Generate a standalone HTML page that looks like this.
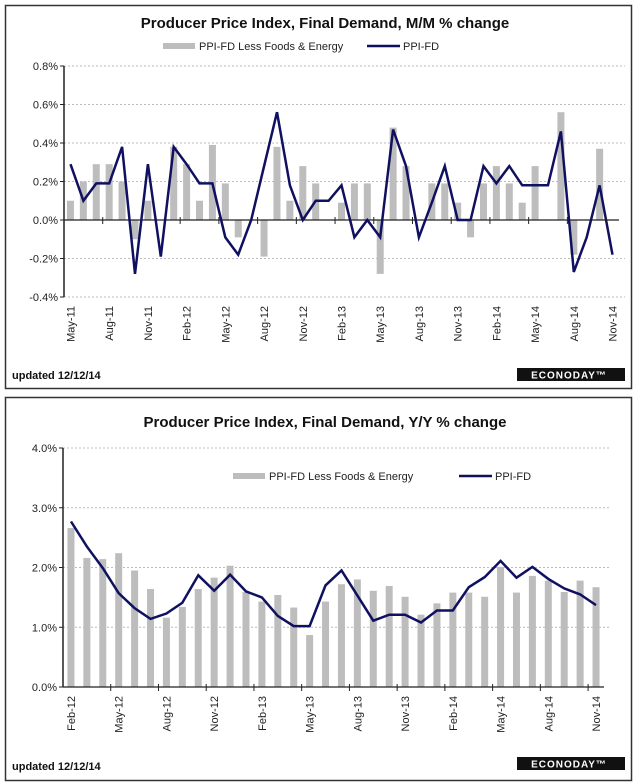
<!DOCTYPE html>
<html><head><meta charset="utf-8">
<style>
html,body{margin:0;padding:0;background:#fff;}
svg{display:block;font-family:"Liberation Sans",Arial,sans-serif;}
</style></head>
<body>
<svg id="c" width="640" height="784" viewBox="0 0 640 784">
<rect x="5.5" y="5.5" width="626" height="383" fill="#fff" stroke="#333" stroke-width="1.5"/>
<rect x="5.5" y="397.5" width="626" height="383" fill="#fff" stroke="#333" stroke-width="1.5"/>
<text x="325" y="28" text-anchor="middle" font-size="15" font-weight="bold" fill="#111">Producer Price Index, Final Demand, M/M % change</text>
<rect x="163" y="43" width="32" height="6" fill="#bdbdbd"/>
<text x="199" y="50" font-size="11" fill="#222">PPI-FD Less Foods &amp; Energy</text>
<line x1="367" y1="46" x2="400" y2="46" stroke="#101060" stroke-width="2.5"/>
<text x="403" y="50" font-size="11" fill="#222">PPI-FD</text>
<text x="325" y="427" text-anchor="middle" font-size="15" font-weight="bold" fill="#111">Producer Price Index, Final Demand, Y/Y % change</text>
<rect x="233" y="473" width="32" height="6" fill="#bdbdbd"/>
<text x="269" y="480" font-size="11" fill="#222">PPI-FD Less Foods &amp; Energy</text>
<line x1="459" y1="476" x2="492" y2="476" stroke="#101060" stroke-width="2.5"/>
<text x="495" y="480" font-size="11" fill="#222">PPI-FD</text>
<text x="12" y="379" font-size="11" font-weight="bold" fill="#111">updated 12/12/14</text>
<text x="12" y="770" font-size="11" font-weight="bold" fill="#111">updated 12/12/14</text>
<g><rect x="517" y="368" width="108" height="13" fill="#111"/><text x="569" y="378.5" text-anchor="middle" font-size="10" font-weight="bold" fill="#fff" letter-spacing="1">ECONODAY™</text></g>
<g><rect x="517" y="757" width="108" height="13" fill="#111"/><text x="569" y="767.5" text-anchor="middle" font-size="10" font-weight="bold" fill="#fff" letter-spacing="1">ECONODAY™</text></g>
</svg>
<script>
// Top chart (M/M), May-11 .. Nov-14
const mmMonths = ["May-11","Jun-11","Jul-11","Aug-11","Sep-11","Oct-11","Nov-11","Dec-11","Jan-12","Feb-12","Mar-12","Apr-12","May-12","Jun-12","Jul-12","Aug-12","Sep-12","Oct-12","Nov-12","Dec-12","Jan-13","Feb-13","Mar-13","Apr-13","May-13","Jun-13","Jul-13","Aug-13","Sep-13","Oct-13","Nov-13","Dec-13","Jan-14","Feb-14","Mar-14","Apr-14","May-14","Jun-14","Jul-14","Aug-14","Sep-14","Oct-14","Nov-14"];
const mmCore = [0.1,0.2,0.29,0.29,0.2,-0.1,0.1,0,0.38,0.29,0.1,0.39,0.19,-0.09,0,-0.19,0.38,0.1,0.28,0.19,0,0.09,0.19,0.19,-0.28,0.48,0.28,0,0.19,0.19,0.09,-0.09,0.19,0.28,0.19,0.09,0.28,0,0.56,-0.18,0,0.37,0];
const mmHeadline = [0.29,0.1,0.19,0.19,0.38,-0.28,0.29,-0.19,0.38,0.29,0.19,0.19,-0.09,-0.18,0,0.28,0.56,0.18,0,0.1,0.1,0.18,-0.09,0,-0.09,0.47,0.28,-0.09,0.09,0.28,0,0,0.28,0.19,0.28,0.18,0.18,0.18,0.46,-0.27,-0.09,0.18,-0.18];
const mmTicks = [-0.4,-0.2,0,0.2,0.4,0.6,0.8];
const mmTickLabels = ["-0.4%","-0.2%","0.0%","0.2%","0.4%","0.6%","0.8%"];
// Bottom chart (Y/Y), Feb-12 .. Nov-14
const yyMonths = ["Feb-12","Mar-12","Apr-12","May-12","Jun-12","Jul-12","Aug-12","Sep-12","Oct-12","Nov-12","Dec-12","Jan-13","Feb-13","Mar-13","Apr-13","May-13","Jun-13","Jul-13","Aug-13","Sep-13","Oct-13","Nov-13","Dec-13","Jan-14","Feb-14","Mar-14","Apr-14","May-14","Jun-14","Jul-14","Aug-14","Sep-14","Oct-14","Nov-14"];
const yyCore = [2.66,2.16,2.14,2.24,1.95,1.64,1.16,1.34,1.64,1.83,2.03,1.59,1.43,1.54,1.33,0.87,1.43,1.72,1.8,1.61,1.69,1.51,1.21,1.4,1.58,1.58,1.51,2.01,1.58,1.86,1.78,1.59,1.78,1.67];
const yyHeadline = [2.77,2.35,1.99,1.57,1.32,1.14,1.23,1.41,1.87,1.61,1.88,1.6,1.5,1.19,1.02,1.02,1.7,1.95,1.53,1.11,1.21,1.21,1.08,1.28,1.28,1.67,1.84,2.11,1.83,2.01,1.81,1.65,1.55,1.37];
const yyTicks = [0,1,2,3,4];
const yyTickLabels = ["0.0%","1.0%","2.0%","3.0%","4.0%"];

const svg = document.getElementById('c');
const NS = 'http://www.w3.org/2000/svg';
function mk(tag, attrs, parent){const e=document.createElementNS(NS,tag);for(const k in attrs)e.setAttribute(k,attrs[k]);(parent||svg).appendChild(e);return e;}

function drawChart(o){
  const n=o.months.length, step=(o.x1-o.x0)/n;
  const xs=i=>o.x0+step*(i+0.5);
  const ys=v=>o.yBottom-(v-o.vmin)/(o.vmax-o.vmin)*(o.yBottom-o.yTop);
  const g=mk('g',{});
  
  
  o.ticks.forEach((t,k)=>{
    const y=ys(t);
    if(t!==0){const l=mk('line',{x1:o.x0,x2:o.x1+6,y1:y,y2:y,stroke:'#bbb','stroke-dasharray':'2,2'},g);
    
    }
    mk('line',{x1:o.x0-4,x2:o.x0,y1:y,y2:y,stroke:'#222'},g);
    const tx=mk('text',{x:o.x0-6,y:y+4,'text-anchor':'end','font-size':11,fill:'#222'},g);
    tx.textContent=o.tickLabels[k];
    
    
  });
  o.core.forEach((v,i)=>{
    const y0=ys(0), y=ys(v);
    const r=mk('rect',{x:xs(i)-3.5,y:Math.min(y,y0),width:7,height:Math.max(Math.abs(y-y0),0.01),fill:'#bdbdbd'},g);
    
    
  });
  mk('line',{x1:o.x0,x2:o.x0,y1:o.yTop,y2:o.yBottom,stroke:'#222','stroke-width':1.5},g);
  const zy=ys(0);
  mk('line',{x1:o.x0,x2:o.x1,y1:zy,y2:zy,stroke:'#222','stroke-width':1.2},g);
  const pts=o.headline.map((v,i)=>xs(i).toFixed(1)+','+ys(v).toFixed(1)).join(' ');
  const pl=mk('polyline',{points:pts,fill:'none',stroke:'#101060','stroke-width':2.5,'stroke-linejoin':'miter'},g);
  
  
  for(let i=0;i<n;i+=3){
    const tx=o.x0+step*(i+3);
    if(tx<o.x1-2) mk('line',{x1:tx,x2:tx,y1:zy-3,y2:zy+4,stroke:'#222'},g);
    const lx=xs(i)+4, ly=o.labelY;
    const t=mk('text',{x:lx,y:ly,'text-anchor':'end','font-size':11,fill:'#222',transform:'rotate(-90 '+lx+' '+ly+')'},g);
    t.textContent=o.months[i];
    
    
  }
}
drawChart({prefix:'mm',months:mmMonths,core:mmCore,headline:mmHeadline,ticks:mmTicks,tickLabels:mmTickLabels,
  x0:64,x1:619,yTop:66,yBottom:297,vmin:-0.4,vmax:0.8,labelY:306});
drawChart({prefix:'yy',months:yyMonths,core:yyCore,headline:yyHeadline,ticks:yyTicks,tickLabels:yyTickLabels,
  x0:63,x1:604,yTop:448,yBottom:687,vmin:0,vmax:4,labelY:696});
</script>
</body></html>
